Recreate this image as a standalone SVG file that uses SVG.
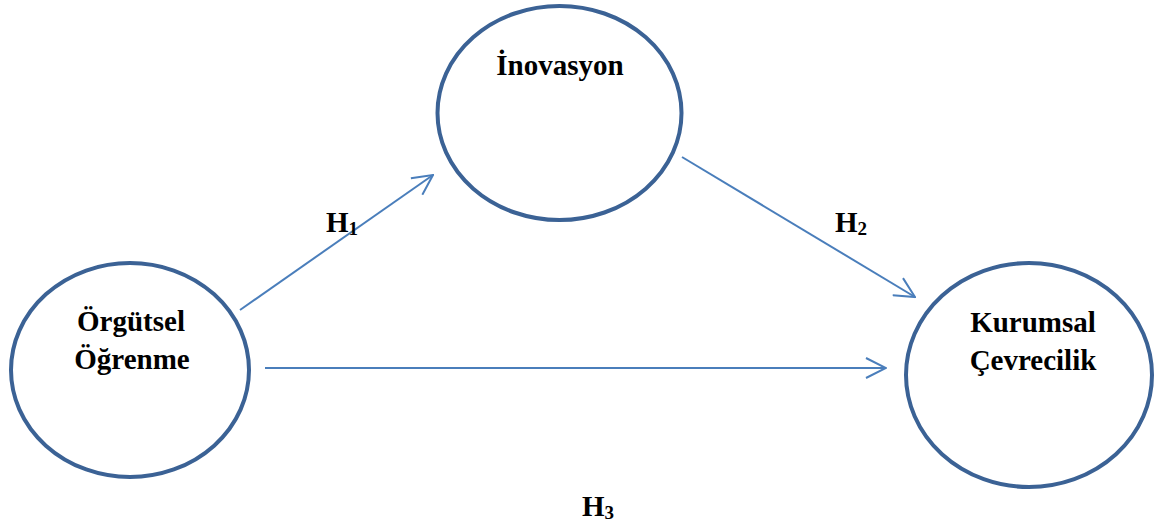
<svg xmlns="http://www.w3.org/2000/svg" width="1156" height="526" viewBox="0 0 1156 526">
<style>
.node{fill:#fff;stroke:#3b6295;stroke-width:4}
.lbl{font-family:"Liberation Serif","Times New Roman",serif;font-weight:bold;font-size:29px;fill:#000;text-anchor:middle}
.h{font-family:"Liberation Serif","Times New Roman",serif;font-weight:bold;font-size:29px;fill:#000}
.sub{font-size:19px}
.conn{stroke:#4a7ebb;stroke-width:2;fill:none}
</style>
<defs>
<marker id="arr" viewBox="0 0 22 22" refX="21" refY="11" markerWidth="22" markerHeight="22" markerUnits="userSpaceOnUse" orient="auto">
<path d="M1,1 L21,11 L1,21" fill="none" stroke="#4a7ebb" stroke-width="2"/>
</marker>
</defs>
<g id="connectors">
<line class="conn" x1="240" y1="310" x2="433" y2="175" marker-end="url(#arr)"/>
<line class="conn" x1="682" y1="157" x2="915" y2="297" marker-end="url(#arr)"/>
<line class="conn" x1="265" y1="368" x2="886" y2="368" marker-end="url(#arr)"/>
</g>
<g id="inovasyon">
<ellipse class="node" cx="559.5" cy="113" rx="122" ry="107"/>
<text class="lbl" x="560" y="75">İnovasyon</text>
</g>
<g id="orgutsel">
<ellipse class="node" cx="130" cy="370" rx="119" ry="107"/>
<text class="lbl" x="131" y="331">Örgütsel</text>
<text class="lbl" x="132" y="369">Öğrenme</text>
</g>
<g id="kurumsal">
<ellipse class="node" cx="1029" cy="375" rx="123" ry="112"/>
<text class="lbl" x="1033" y="332">Kurumsal</text>
<text class="lbl" x="1033" y="370">Çevrecilik</text>
</g>
<g id="labels">
<text class="h" x="326" y="232">H<tspan class="sub" dy="3">1</tspan></text>
<text class="h" x="835" y="232">H<tspan class="sub" dy="3">2</tspan></text>
<text class="h" x="582" y="516">H<tspan class="sub" dy="3">3</tspan></text>
</g>
</svg>
